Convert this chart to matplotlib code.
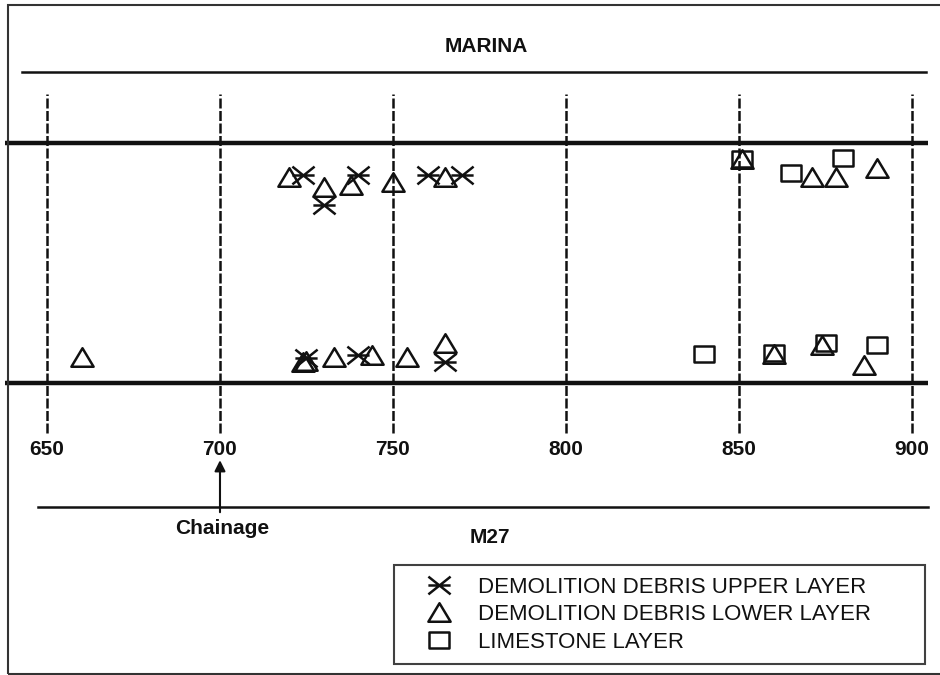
import numpy as np
import matplotlib
matplotlib.use("Agg")
import matplotlib.pyplot as plt
from matplotlib.path import Path
from matplotlib.patches import Rectangle

plt.rcParams['font.family'] = ['Liberation Sans', 'DejaVu Sans']

# chainage grid
chainage_ticks = [650, 700, 750, 800, 850, 900]

# sample positions: chainage and level between the two layer boundaries (0 = M27 side, 10 = marina side)
upper_x = [724, 730, 740, 760, 770, 725, 740, 765]
upper_y = [8.67, 7.42, 8.67, 8.67, 8.67, 1.04, 1.17, 0.875]

lower_x = [720, 730, 738, 750, 765, 851, 871, 878, 890,
           660, 724, 725, 733, 744, 754, 765, 860, 874, 886]
lower_y = [8.58, 8.17, 8.25, 8.38, 8.58, 9.33, 8.58, 8.58, 8.96,
           1.08, 0.875, 0.9, 1.08, 1.17, 1.08, 1.67, 1.2, 1.58, 0.75]

lime_x = [851, 865, 880, 840, 860, 875, 890]
lime_y = [9.33, 8.75, 9.38, 1.21, 1.25, 1.67, 1.58]

labels = ['DEMOLITION DEBRIS UPPER LAYER',
          'DEMOLITION DEBRIS LOWER LAYER',
          'LIMESTONE LAYER']

# custom markers
M, L = Path.MOVETO, Path.LINETO
cross = Path([(-1, 0), (1, 0), (-1, -0.8), (1, 0.8), (-1, 0.8), (1, -0.8)],
             [M, L, M, L, M, L])
tri = Path([(0, 1), (-1.2, -1), (1.2, -1), (0, 1)],
           [M, L, L, Path.CLOSEPOLY])
box = Path([(-1, -0.8), (1, -0.8), (1, 0.8), (-1, 0.8), (-1, -0.8)],
           [M, L, L, L, Path.CLOSEPOLY])

ink = '#111111'
fig = plt.figure(figsize=(9.4, 6.75), dpi=100)
ax = fig.add_axes([0, 0, 1, 1])
ax.set_xlim(636.42, 908.09)
ax.set_ylim(-12.167, 15.958)
ax.axis('off')

W, H = 940.0, 675.0

# layer boundaries
for y in [0, 10]:
    ax.axhline(y, xmin=5 / W, xmax=928 / W, color=ink, lw=3.2, solid_capstyle='butt')

# marina and M27 edges
ax.axhline(12.96, xmin=22 / W, xmax=926 / W, color=ink, lw=1.8)
ax.axhline(-5.17, xmin=38 / W, xmax=928 / W, color=ink, lw=1.8)
ax.text(777, 14.0, 'MARINA', ha='center', va='center', fontsize=15, fontweight='bold', color=ink)
ax.text(778, -6.45, 'M27', ha='center', va='center', fontsize=15, fontweight='bold', color=ink)

# chainage grid lines and labels
for c in chainage_ticks:
    ax.plot([c, c], [-2.08, 12.04], color=ink, lw=1.8, dashes=(4, 1))
    ax.text(c, -2.79, str(c), ha='center', va='center', fontsize=15, fontweight='bold', color=ink)

ax.annotate('', xy=(700, -3.1), xytext=(700, -5.5),
            arrowprops=dict(arrowstyle='-|>', color=ink, lw=1.5, mutation_scale=16))
ax.text(700.5, -6.05, 'Chainage', ha='center', va='center', fontsize=15, fontweight='bold', color=ink)

# samples
ms_kw = dict(linestyle='none', markerfacecolor='none', markeredgecolor=ink, markeredgewidth=1.8)
h1, = ax.plot(upper_x, upper_y, marker=cross, markersize=16, **ms_kw)
h2, = ax.plot(lower_x, lower_y, marker=tri, markersize=16, **ms_kw)
h3, = ax.plot(lime_x, lime_y, marker=box, markersize=15, **ms_kw)

leg = ax.legend([h1, h2, h3], labels, loc='upper left',
                bbox_to_anchor=(394 / W, 1 - 664 / H, 531 / W, 99 / H),
                bbox_transform=fig.transFigure, mode='expand', borderaxespad=0,
                fontsize=16, frameon=True, fancybox=False, edgecolor=ink,
                handlelength=3.0, handletextpad=0.25, labelspacing=0.3, borderpad=0.52)
leg.get_frame().set_linewidth(1.5)
for t in leg.get_texts():
    t.set_color(ink)

# outer frame
fig.add_artist(Rectangle((8 / W, 1 - 674 / H), 1.0, 669 / H, transform=fig.transFigure,
                         fill=False, edgecolor='#333333', lw=1.5))

fig.savefig('out.png', dpi=100)
